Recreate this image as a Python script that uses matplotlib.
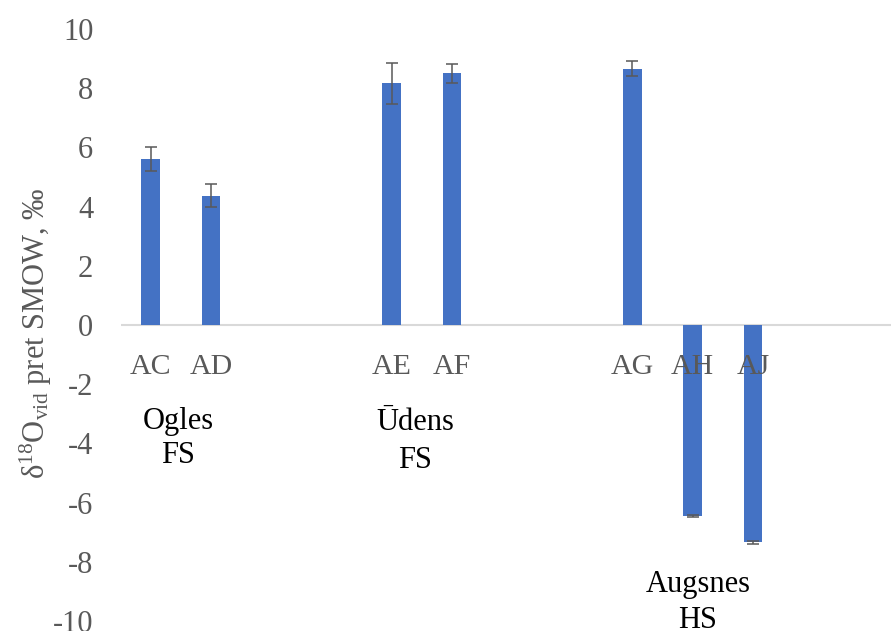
import matplotlib
matplotlib.use('Agg')
import matplotlib.pyplot as plt
import numpy as np

plt.rcParams['font.family'] = ['Liberation Serif', 'DejaVu Serif']
plt.rcParams['mathtext.fontset'] = 'custom'
plt.rcParams['mathtext.rm'] = 'Liberation Serif'
plt.rcParams['mathtext.it'] = 'Liberation Serif:italic'
plt.rcParams['axes.unicode_minus'] = False

# Samples, with empty slots between the groups
samples = ['AC', 'AD', '', '', 'AE', 'AF', '', '', 'AG', 'AH', 'AJ', '', '']
d18O = [5.60, 4.37, np.nan, np.nan, 8.16, 8.50, np.nan, np.nan, 8.66, -6.44, -7.34, np.nan, np.nan]
d18O_err = [0.40, 0.39, 0, 0, 0.70, 0.32, 0, 0, 0.25, 0.03, 0.05, 0, 0]

groups = [('Ogles', 'FS'), ('Ūdens', 'FS'), ('Augsnes', 'HS')]
group_x = [0.45, 4.39, 9.09]
group_y = [(-3.50, -4.66), (-3.54, -4.84), (-9.03, -10.24)]

bar_color = '#4472C4'
grey = '#595959'

fig = plt.figure(figsize=(8.91, 6.31), dpi=100)
ax = fig.add_axes([0.1355, 0.01585, 0.8645, 0.9382])

x = np.arange(len(samples))
ax.bar(x, d18O, width=0.31, color=bar_color, zorder=2)
ax.errorbar(x, d18O, yerr=d18O_err, fmt='none', ecolor=grey,
            elinewidth=1.1, capsize=4.3, capthick=1.1, zorder=3)
ax.axhline(0, color='#d9d9d9', lw=1.5, zorder=1)

ax.set_xlim(-0.5, 12.295)
ax.set_ylim(-10, 10)
ax.set_yticks(np.arange(-10, 11, 2))
ax.set_xticks([])
ax.tick_params(axis='y', length=0, pad=19.7, labelsize=22, labelcolor=grey)
for s in ax.spines.values():
    s.set_visible(False)

# sample names sit just under the zero line
for xi, name in zip(x, samples):
    if name:
        ax.annotate(name, xy=(xi, 0), xytext=(0, -35.3), textcoords='offset points',
                    ha='center', va='baseline', fontsize=21.5, color=grey, zorder=5)

for (top, bottom), gx, (y1, y2) in zip(groups, group_x, group_y):
    ax.text(gx, y1, top, ha='center', va='baseline', fontsize=22, color='black',
            clip_on=False, zorder=5)
    ax.text(gx, y2, bottom, ha='center', va='baseline', fontsize=22, color='black',
            clip_on=False, zorder=5)

fig.text(0.040, 0.472, 'δ$^{18}$O$_{\\mathrm{vid}}$ pret SMOW, ‰', rotation=90,
         ha='center', va='center', fontsize=22, color=grey)

fig.savefig('out.png', dpi=100)
